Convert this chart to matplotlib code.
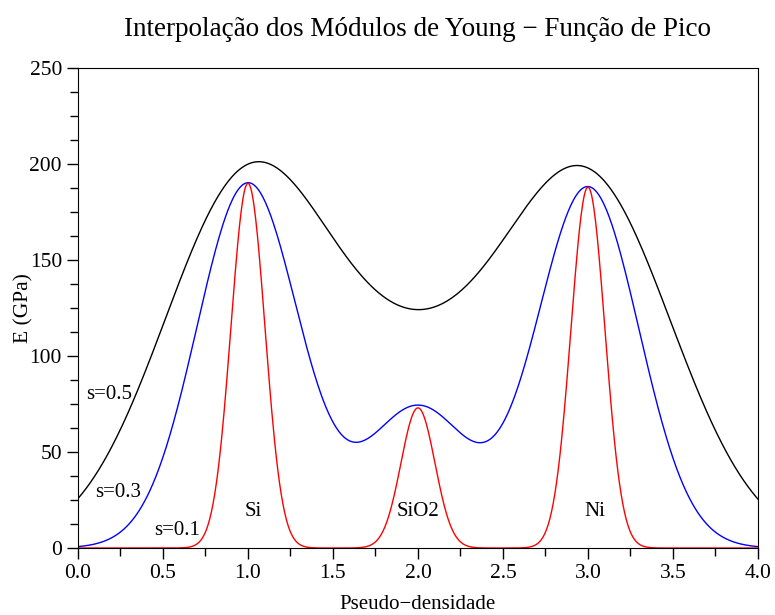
import numpy as np
import matplotlib
matplotlib.use('Agg')
import matplotlib.pyplot as plt
from matplotlib.ticker import MultipleLocator

# Picos dos materiais: posição na pseudo-densidade e módulo de Young (GPa)
materiais = ["Si", "SiO2", "Ni"]
posicoes = [1.0, 2.0, 3.0]
modulos = [190.0, 73.0, 188.0]
rotulo_mat_x = [1.03, 2.0, 3.04]

# Larguras da função de pico e cor de cada curva
larguras = [0.5, 0.3, 0.1]
cores = ["black", "blue", "red"]
rotulos = ["s=0.5", "s=0.3", "s=0.1"]
rotulo_pos = [(0.05, 80), (0.10, 29), (0.45, 9)]

plt.rcParams['font.family'] = ['Liberation Serif', 'DejaVu Serif']
plt.rcParams['axes.unicode_minus'] = True

x = np.linspace(0.0, 4.0, 801)

def pico(x, s):
    e = np.zeros_like(x)
    for p, m in zip(posicoes, modulos):
        e += m * np.exp(-(x - p) ** 2 / (2 * s ** 2))
    return e

fig = plt.figure(figsize=(7.75, 6.15), dpi=100)
ax = fig.add_axes([0.1006, 0.1089, 0.8774, 0.7805])

for s, c in zip(larguras, cores):
    ax.plot(x, pico(x, s), color=c, linewidth=1.0)

for txt, (tx, ty) in zip(rotulos, rotulo_pos):
    ax.text(tx, ty, txt, fontsize=15, ha='left', va='center')

for nome, tx in zip(materiais, rotulo_mat_x):
    ax.text(tx, 19, nome, fontsize=15, ha='center', va='center')

ax.set_xlim(0, 4)
ax.set_ylim(0, 250)
ax.xaxis.set_major_locator(MultipleLocator(0.5))
ax.xaxis.set_minor_locator(MultipleLocator(0.25))
ax.yaxis.set_major_locator(MultipleLocator(50))
ax.yaxis.set_minor_locator(MultipleLocator(12.5))
ax.xaxis.set_major_formatter(matplotlib.ticker.FormatStrFormatter('%.1f'))
ax.tick_params(which='both', direction='out', top=False, right=False,
               labelsize=15.5, width=1.0)
ax.tick_params(which='major', length=8)
ax.tick_params(which='minor', length=6)

ax.set_title("Interpolação dos Módulos de Young \u2212 Função de Pico",
             fontsize=19.5, pad=23)
ax.set_xlabel("Pseudo\u2212densidade", fontsize=15, labelpad=9)
ax.set_ylabel("E (GPa)", fontsize=15.5, labelpad=-3)

fig.savefig("out.png", dpi=100)
